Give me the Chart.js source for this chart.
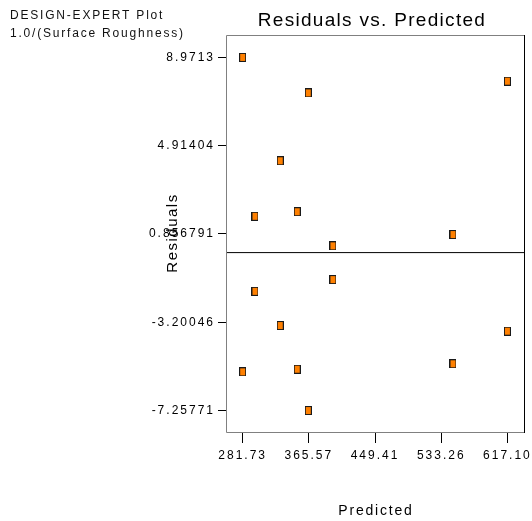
<!DOCTYPE html>
<html>
<head>
<meta charset="utf-8">
<script src="https://cdn.jsdelivr.net/npm/chart.js@4/dist/chart.umd.min.js"></script>
<style>
  html, body { margin: 0; padding: 0; background: #fff; }
  canvas { display: block; }
</style>
</head>
<body>
<canvas id="plot" width="532" height="521"></canvas>
<script>
// values
const predicted = [281.73, 364.8, 329.3, 297.3, 350.8, 396.0, 617.10, 548.1,
                   396.0, 297.3, 329.3, 281.73, 350.8, 364.8, 617.10, 548.1];
const residuals = [8.9713, 7.34, 4.22, 1.67, 1.88, 0.31, 7.88, 0.83,
                   -1.24, -1.78, -3.35, -5.48, -5.36, -7.25771, -3.61, -5.11];

const xTicks = [281.73, 365.57, 449.41, 533.26, 617.10];
const xTickLabels = ['281.73', '365.57', '449.41', '533.26', '617.10'];
const yTicks = [8.9713, 4.91404, 0.856791, -3.20046, -7.25771];
const yTickLabels = ['8.9713', '4.91404', '0.856791', '-3.20046', '-7.25771'];

const xRange = [261.86, 638.1];
const yRange = [-8.29, 10.0];

const FONT = '"Liberation Sans", Arial, sans-serif';
Chart.defaults.font.family = FONT;
Chart.defaults.color = '#000';

function makeMarker(w, h){
  const c = document.createElement('canvas');
  c.width = w; c.height = h;
  const g = c.getContext('2d');
  g.fillStyle = '#1a1a1a';
  g.fillRect(0, 0, w, h);
  g.fillStyle = '#ff8000';
  g.fillRect(1, 1, w - 2, h - 2);
  return c;
}

// box, letter-spaced ticks and the free text of the plot
const decor = {
  id: 'decor',
  beforeDraw(chart){
    chart.ctx.letterSpacing = '2px';
  },
  afterDraw(chart){
    const { ctx, chartArea: a } = chart;
    ctx.save();
    ctx.lineWidth = 1;
    ctx.strokeStyle = '#808080';
    ctx.beginPath();
    ctx.moveTo(a.left - 0.5, a.bottom - 0.5);
    ctx.lineTo(a.left - 0.5, a.top + 0.5);
    ctx.lineTo(a.right, a.top + 0.5);
    ctx.moveTo(a.left - 0.5, a.bottom - 0.5);
    ctx.lineTo(a.right, a.bottom - 0.5);
    ctx.stroke();
    ctx.strokeStyle = '#000';
    ctx.beginPath();
    ctx.moveTo(a.right + 0.5, a.top);
    ctx.lineTo(a.right + 0.5, a.bottom);
    ctx.stroke();

    ctx.fillStyle = '#111';
    ctx.textBaseline = 'alphabetic';
    ctx.textAlign = 'left';
    ctx.font = '12px ' + FONT;
    ctx.letterSpacing = '1.8px';
    ctx.fillText('DESIGN-EXPERT Plot', 10, 19);
    ctx.fillText('1.0/(Surface Roughness)', 10, 37);

    ctx.fillStyle = '#000';
    ctx.textAlign = 'center';
    ctx.font = '19px ' + FONT;
    ctx.letterSpacing = '1.3px';
    ctx.fillText('Residuals vs. Predicted', 372, 26);

    ctx.font = '14px ' + FONT;
    ctx.letterSpacing = '1.8px';
    ctx.fillText('Predicted', 376, 515);

    ctx.font = '15px ' + FONT;
    ctx.letterSpacing = '1.5px';
    ctx.translate(177, 233);
    ctx.rotate(-Math.PI / 2);
    ctx.fillText('Residuals', 0, 0);
    ctx.restore();
  }
};

new Chart(document.getElementById('plot'), {
  type: 'scatter',
  data: {
    datasets: [
      {
        label: 'Residuals',
        data: predicted.map((x, i) => ({ x, y: residuals[i] })),
        pointStyle: makeMarker(7, 9),
        pointRadius: 5,
        order: 0
      },
      {
        type: 'line',
        label: 'zero',
        data: [{ x: xRange[0], y: 0 }, { x: xRange[1], y: 0 }],
        borderColor: '#000',
        borderWidth: 1,
        pointRadius: 0,
        order: 1
      }
    ]
  },
  plugins: [decor],
  options: {
    responsive: false,
    animation: false,
    devicePixelRatio: 1,
    layout: { padding: { top: 35, right: 8, left: 0, bottom: 0 } },
    plugins: { legend: { display: false }, tooltip: { enabled: false } },
    scales: {
      x: {
        type: 'linear',
        min: xRange[0], max: xRange[1],
        afterFit: s => { s.height = 88; },
        afterBuildTicks: s => { s.ticks = xTicks.map(v => ({ value: v })); },
        border: { display: false },
        grid: { drawOnChartArea: false, drawTicks: true, tickLength: 10, color: '#000' },
        ticks: {
          autoSkip: false, maxRotation: 0, padding: 5,
          font: { size: 12 },
          callback: (v, i) => xTickLabels[i]
        }
      },
      y: {
        type: 'linear',
        min: yRange[0], max: yRange[1],
        afterFit: s => { s.width = 227; },
        afterBuildTicks: s => { s.ticks = yTicks.map(v => ({ value: v })); },
        border: { display: false },
        grid: { drawOnChartArea: false, drawTicks: true, tickLength: 9, color: '#000' },
        ticks: {
          autoSkip: false, padding: 3,
          font: { size: 12 },
          callback: (v, i) => yTickLabels[i]
        }
      }
    }
  }
});
</script>
</body>
</html>
